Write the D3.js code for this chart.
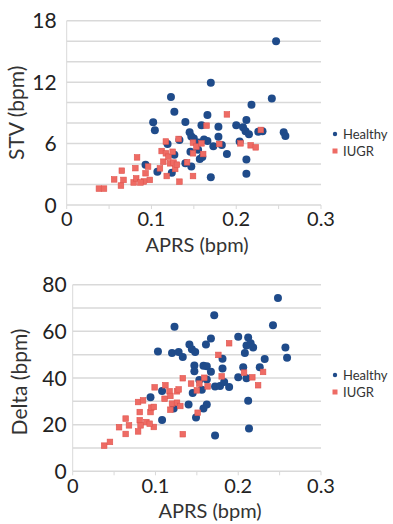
<!DOCTYPE html>
<html>
<head>
<meta charset="utf-8">
<script src="https://cdn.jsdelivr.net/npm/d3@7"></script>
<style>
  body { margin: 0; background: #fff; }
  svg { font-family: Lato, "Open Sans", sans-serif; }
</style>
</head>
<body>
<svg id="chart" width="393" height="524"></svg>
<script>
// [APRS, STV] pairs
const stvHealthy = [
  [0.247, 16.0], [0.170, 11.95], [0.123, 10.55], [0.127, 9.1], [0.242, 10.4], [0.218, 9.8],
  [0.102, 8.07], [0.104, 7.3], [0.140, 8.1], [0.166, 8.8], [0.159, 7.8], [0.179, 7.65],
  [0.200, 7.8], [0.212, 8.3], [0.208, 7.6], [0.211, 7.2], [0.215, 6.9], [0.226, 7.15],
  [0.231, 7.2], [0.256, 7.1], [0.258, 6.75], [0.145, 7.1], [0.147, 6.7], [0.150, 6.5],
  [0.156, 6.1], [0.162, 6.4], [0.166, 6.25], [0.173, 5.75], [0.179, 6.67], [0.183, 5.85],
  [0.189, 4.98], [0.204, 6.2], [0.212, 4.45], [0.212, 3.05], [0.170, 2.7], [0.147, 3.75],
  [0.146, 5.2], [0.140, 4.07], [0.124, 3.15], [0.119, 5.95], [0.127, 4.9], [0.133, 6.35],
  [0.107, 3.25], [0.093, 3.94], [0.157, 4.5], [0.160, 4.7], [0.155, 5.4]
];
const stvIugr = [
  [0.038, 1.6], [0.044, 1.6], [0.056, 2.5], [0.065, 3.35], [0.067, 2.45], [0.064, 1.9],
  [0.079, 2.2], [0.081, 3.6], [0.082, 2.6], [0.083, 4.65], [0.091, 2.3], [0.093, 3.1],
  [0.096, 3.75], [0.098, 2.45], [0.087, 2.2], [0.112, 5.27], [0.114, 4.23], [0.117, 6.2],
  [0.117, 5.05], [0.110, 3.58], [0.118, 2.83], [0.120, 4.72], [0.122, 4.07], [0.125, 5.2],
  [0.126, 4.14], [0.128, 3.52], [0.130, 3.94], [0.132, 6.45], [0.133, 2.28], [0.142, 4.17],
  [0.149, 6.09], [0.149, 5.05], [0.149, 2.83], [0.153, 5.7], [0.159, 6.02], [0.161, 4.98],
  [0.165, 7.75], [0.180, 5.96], [0.189, 8.85], [0.205, 6.02], [0.217, 5.83], [0.223, 5.63],
  [0.229, 7.33]
];
// [APRS, Delta] pairs
const deltaHealthy = [
  [0.248, 74.3], [0.242, 62.6], [0.171, 66.9], [0.123, 62.0], [0.103, 51.4], [0.120, 50.7],
  [0.128, 51.1], [0.133, 49.0], [0.141, 54.4], [0.144, 52.3], [0.148, 51.1], [0.161, 54.4],
  [0.167, 56.9], [0.200, 57.7], [0.212, 57.4], [0.210, 53.9], [0.215, 54.9], [0.218, 53.1],
  [0.208, 50.7], [0.257, 53.1], [0.259, 48.7], [0.232, 48.1], [0.226, 44.6], [0.147, 45.4],
  [0.147, 42.9], [0.158, 45.3], [0.162, 45.0], [0.167, 42.7], [0.181, 48.3], [0.181, 44.1],
  [0.206, 44.6], [0.200, 40.3], [0.210, 39.9], [0.153, 39.1], [0.162, 39.4], [0.172, 36.4],
  [0.178, 36.6], [0.183, 38.3], [0.189, 36.1], [0.145, 33.6], [0.156, 35.0], [0.158, 26.9],
  [0.162, 28.6], [0.140, 28.6], [0.149, 23.1], [0.108, 34.4], [0.094, 31.7], [0.108, 22.0],
  [0.122, 26.9], [0.212, 30.3], [0.213, 18.3], [0.172, 15.4]
];
const deltaIugr = [
  [0.038, 11.0], [0.045, 12.6], [0.056, 18.9], [0.064, 22.6], [0.068, 19.7], [0.064, 16.0],
  [0.079, 29.7], [0.085, 30.4], [0.081, 25.4], [0.081, 21.9], [0.082, 19.7], [0.079, 17.1],
  [0.089, 21.1], [0.094, 25.4], [0.095, 27.3], [0.098, 27.6], [0.098, 19.0], [0.093, 20.4],
  [0.099, 36.0], [0.112, 36.9], [0.111, 31.1], [0.117, 34.3], [0.118, 32.3], [0.120, 29.0],
  [0.118, 26.4], [0.126, 34.3], [0.128, 35.1], [0.126, 29.4], [0.130, 28.0], [0.133, 39.9],
  [0.133, 15.9], [0.143, 37.6], [0.150, 34.7], [0.153, 37.6], [0.151, 25.1], [0.159, 40.1],
  [0.163, 36.4], [0.176, 49.9], [0.180, 40.7], [0.189, 54.9], [0.207, 42.3], [0.217, 40.3],
  [0.224, 36.9], [0.230, 42.6]
];

const xTicks = [0, 0.1, 0.2, 0.3];
const stvTicks = [0, 6, 12, 18];
const deltaTicks = [0, 20, 40, 60, 80];
const seriesNames = ["Healthy", "IUGR"];

const blue = "#1f4b8a";
const red = "#ee6b64";
const grid = "#d9d9d9";

const svg = d3.select("#chart");

function drawPanel(p) {
  const x = d3.scaleLinear().domain([0, 0.3]).range([p.left, 321]);
  const y = d3.scaleLinear().domain([0, p.yMax]).range([p.bottom, p.top]);
  const g = svg.append("g");

  // gridlines
  g.append("g").selectAll("line")
    .data(d3.range(p.gridStep, p.yMax + 0.001, p.gridStep))
    .join("line")
    .attr("x1", x(0)).attr("x2", x(0.3))
    .attr("y1", d => y(d)).attr("y2", d => y(d))
    .attr("stroke", grid).attr("stroke-width", 1.5);

  // axis lines + minor ticks
  g.append("line").attr("x1", x(0)).attr("x2", x(0)).attr("y1", y(0)).attr("y2", y(p.yMax))
    .attr("stroke", grid).attr("stroke-width", 1);
  g.append("line").attr("x1", x(0)).attr("x2", x(0.3)).attr("y1", y(0)).attr("y2", y(0))
    .attr("stroke", grid).attr("stroke-width", 1.5);
  g.append("g").selectAll("line")
    .data(d3.range(0, 0.3001, 0.05))
    .join("line")
    .attr("x1", d => x(d)).attr("x2", d => x(d))
    .attr("y1", y(0)).attr("y2", y(0) + 4)
    .attr("stroke", grid);

  // tick labels
  g.append("g").attr("text-anchor", "end").selectAll("text")
    .data(p.yTicks)
    .join("text")
    .attr("x", x(0) - p.labelGap).attr("y", d => y(d)).attr("dy", "0.36em")
    .attr("font-size", 21).attr("fill", "#222")
    .text(d => d);
  g.append("g").attr("text-anchor", "middle").selectAll("text")
    .data(xTicks)
    .join("text")
    .attr("x", d => x(d)).attr("y", y(0) + 14).attr("dy", "0.36em")
    .attr("font-size", 20).attr("fill", "#222")
    .text(d => d);

  // titles
  g.append("text").attr("text-anchor", "middle")
    .attr("x", p.xTitleX).attr("y", y(0) + 47)
    .attr("font-size", 20).attr("fill", "#333")
    .text("APRS (bpm)");
  g.append("text").attr("text-anchor", "middle")
    .attr("transform", `translate(${p.yTitleX},${(p.top + p.bottom) / 2 + p.yTitleShift}) rotate(-90)`)
    .attr("font-size", 21).attr("fill", "#333")
    .text(p.yTitle);

  // points
  g.append("g").selectAll("circle")
    .data(p.healthy)
    .join("circle")
    .attr("cx", d => x(d[0])).attr("cy", d => y(d[1]))
    .attr("r", 4).attr("fill", blue);
  g.append("g").selectAll("rect")
    .data(p.iugr)
    .join("rect")
    .attr("x", d => x(d[0]) - 2.8).attr("y", d => y(d[1]) - 2.8)
    .attr("width", 5.6).attr("height", 5.6)
    .attr("fill", red).attr("stroke", "#e0554f").attr("stroke-width", 0.6);

  // legend
  const lg = g.append("g").attr("transform", `translate(335,${p.legendY})`);
  lg.append("circle").attr("cx", 0).attr("cy", 0).attr("r", 2.2).attr("fill", blue);
  lg.append("rect").attr("x", -2.5).attr("y", 14.5).attr("width", 5).attr("height", 5).attr("fill", red);
  lg.selectAll("text")
    .data(seriesNames)
    .join("text")
    .attr("x", 8).attr("y", (d, i) => i * 17).attr("dy", "0.35em")
    .attr("font-size", 13).attr("fill", "#333")
    .text(d => d);
}

drawPanel({
  healthy: stvHealthy, iugr: stvIugr, yMax: 18, gridStep: 2, yTicks: stvTicks,
  left: 66.7, top: 20.7, bottom: 205, labelGap: 10,
  yTitle: "STV (bpm)", yTitleX: 24, yTitleShift: 0, xTitleX: 197, legendY: 134
});
drawPanel({
  healthy: deltaHealthy, iugr: deltaIugr, yMax: 80, gridStep: 10, yTicks: deltaTicks,
  left: 72.7, top: 284.7, bottom: 471.3, labelGap: 6,
  yTitle: "Delta (bpm)", yTitleX: 27, yTitleShift: 4, xTitleX: 210, legendY: 375
});
</script>
</body>
</html>
